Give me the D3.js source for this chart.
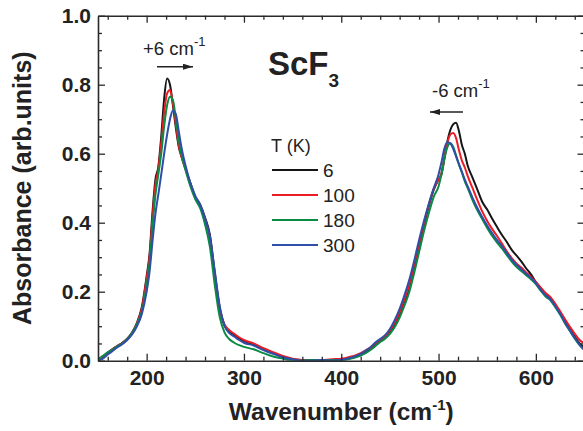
<!DOCTYPE html>
<html>
<head>
<meta charset="utf-8">
<script src="https://cdn.jsdelivr.net/npm/d3@7"></script>
<style>
  body { margin: 0; background: #fff; }
  svg { display: block; font-family: "Liberation Sans", Arial, sans-serif; }
</style>
</head>
<body>
<div id="chart"></div>
<script>
// wavenumber grid (cm-1)
const wavenumber = [
  150,155,160,165,170,175,180,185,190,195,200,
  203,206,209,212,215,218,221,224,227,230,233,236,
  240,245,250,255,260,265,270,275,280,285,290,295,300,
  310,320,330,340,350,360,370,380,390,400,
  405,410,415,420,425,430,435,440,445,450,455,460,465,470,475,480,485,490,495,500,
  503,506,509,512,515,518,521,524,527,530,
  535,540,545,550,555,560,565,570,575,580,585,590,595,600,605,610,615,620,625,630,635,640,645,650
];

// absorbance per temperature
const abs6 = [
  0.000,0.012,0.024,0.034,0.043,0.052,0.064,0.082,0.110,0.155,0.245,
  0.310,0.430,0.525,0.562,0.650,0.760,0.818,0.800,0.740,0.675,0.620,0.590,
  0.555,0.515,0.475,0.452,0.415,0.365,0.255,0.155,0.102,0.085,0.075,0.065,0.057,
  0.047,0.035,0.022,0.012,0.004,0.002,0.001,0.000,0.002,0.003,
  0.005,0.008,0.012,0.018,0.026,0.035,0.047,0.058,0.068,0.085,0.105,0.135,0.172,0.212,0.270,0.330,0.392,0.448,0.495,0.525,
  0.540,0.585,0.635,0.668,0.685,0.690,0.665,0.625,0.600,0.565,
  0.530,0.495,0.460,0.438,0.412,0.388,0.365,0.345,0.322,0.305,0.288,0.268,0.250,0.228,0.210,0.193,0.180,0.160,0.140,0.112,0.090,0.070,0.050,0.038
];
const abs100 = [
  0.000,0.011,0.022,0.033,0.042,0.051,0.062,0.080,0.108,0.150,0.238,
  0.300,0.415,0.510,0.555,0.630,0.720,0.775,0.785,0.745,0.685,0.625,0.590,
  0.555,0.512,0.472,0.448,0.410,0.355,0.245,0.150,0.105,0.088,0.078,0.068,0.060,
  0.050,0.036,0.025,0.014,0.006,0.002,0.000,0.001,0.004,0.006,
  0.008,0.012,0.016,0.022,0.030,0.038,0.050,0.060,0.070,0.088,0.110,0.140,0.178,0.220,0.278,0.338,0.398,0.452,0.498,0.525,
  0.545,0.590,0.630,0.655,0.660,0.645,0.610,0.580,0.560,0.535,
  0.500,0.465,0.432,0.405,0.382,0.362,0.340,0.318,0.298,0.282,0.270,0.256,0.243,0.228,0.212,0.196,0.184,0.165,0.143,0.120,0.098,0.078,0.060,0.050
];
const abs180 = [
  0.004,0.014,0.024,0.032,0.042,0.050,0.062,0.080,0.106,0.142,0.220,
  0.285,0.390,0.480,0.540,0.600,0.680,0.740,0.765,0.755,0.700,0.640,0.595,
  0.552,0.505,0.468,0.442,0.395,0.330,0.220,0.128,0.082,0.062,0.052,0.045,0.040,
  0.033,0.022,0.012,0.006,0.000,0.000,0.002,0.001,0.002,0.002,
  0.003,0.006,0.010,0.015,0.022,0.031,0.042,0.054,0.064,0.078,0.098,0.125,0.160,0.200,0.255,0.315,0.375,0.428,0.475,0.505,
  0.540,0.585,0.618,0.630,0.620,0.595,0.568,0.545,0.520,0.500,
  0.465,0.435,0.410,0.385,0.362,0.343,0.326,0.307,0.288,0.272,0.260,0.248,0.236,0.222,0.203,0.186,0.175,0.155,0.133,0.108,0.086,0.064,0.045,0.032
];
const abs300 = [
  0.000,0.006,0.018,0.028,0.039,0.048,0.060,0.076,0.100,0.135,0.200,
  0.258,0.345,0.425,0.482,0.540,0.600,0.655,0.700,0.725,0.715,0.665,0.615,
  0.565,0.515,0.478,0.452,0.412,0.360,0.260,0.160,0.102,0.080,0.070,0.060,0.052,
  0.044,0.031,0.020,0.010,0.004,0.000,0.000,0.002,0.000,0.003,
  0.005,0.009,0.014,0.020,0.029,0.039,0.053,0.063,0.074,0.092,0.118,0.150,0.190,0.235,0.290,0.350,0.405,0.455,0.500,0.540,
  0.575,0.615,0.633,0.630,0.615,0.592,0.570,0.548,0.525,0.505,
  0.472,0.442,0.416,0.392,0.370,0.350,0.333,0.313,0.294,0.278,0.265,0.252,0.240,0.225,0.205,0.190,0.178,0.158,0.136,0.110,0.088,0.066,0.046,0.030
];

const tempLabels = ["6", "100", "180", "300"];
const tempColors = ["#151515", "#ec1c24", "#0b8a44", "#2e4ea8"];
const xTicks = [200, 300, 400, 500, 600];
const yTicks = [0.0, 0.2, 0.4, 0.6, 0.8, 1.0];

const width = 583, height = 431;
const margin = { left: 98, right: -1.5, top: 15.7, bottom: 70.3 };

const svg = d3.select("#chart").append("svg")
  .attr("width", width)
  .attr("height", height);

const x = d3.scaleLinear().domain([150, 650]).range([margin.left, width - margin.right]);
const y = d3.scaleLinear().domain([0, 1.0]).range([height - margin.bottom, margin.top]);

const axisColor = "#2a2a2a";
const xMinor = d3.range(160, 650, 20).filter(d => d % 100 !== 0);
const yMinor = d3.range(0.05, 1.0, 0.05).filter(d => Math.abs(d * 5 - Math.round(d * 5)) > 1e-6);

function styleAxis(sel) {
  sel.selectAll("path").attr("stroke", axisColor).attr("stroke-width", 1.6);
  sel.selectAll("line").attr("stroke", axisColor).attr("stroke-width", 1.3);
}

// curves
svg.append("clipPath").attr("id", "plot-clip")
  .append("rect")
  .attr("x", margin.left).attr("y", margin.top)
  .attr("width", width - margin.right - margin.left)
  .attr("height", height - margin.bottom - margin.top);

const line = d3.line()
  .x(d => x(d[0]))
  .y(d => y(d[1]))
  .curve(d3.curveMonotoneX);

const allSeries = [abs6, abs100, abs180, abs300];
const curves = svg.append("g").attr("clip-path", "url(#plot-clip)");
allSeries.forEach((vals, i) => {
  curves.append("path")
    .datum(wavenumber.map((w, j) => [w, vals[j]]))
    .attr("fill", "none")
    .attr("stroke", tempColors[i])
    .attr("stroke-width", 2)
    .attr("d", line);
});

// axes: bottom, top, left, right
const gx = svg.append("g")
  .attr("transform", `translate(0,${y(0)})`)
  .call(d3.axisBottom(x).tickValues(xTicks).tickSize(-7).tickSizeOuter(0).tickPadding(9).tickFormat(d3.format("d")));
gx.append("g").call(d3.axisBottom(x).tickValues(xMinor).tickSize(-4).tickFormat(""))
  .select("path").remove();
styleAxis(gx);

const gxTop = svg.append("g")
  .attr("transform", `translate(0,${y(1)})`)
  .call(d3.axisTop(x).tickValues(xTicks).tickSize(-7).tickSizeOuter(0).tickFormat(""));
gxTop.append("g").call(d3.axisTop(x).tickValues(xMinor).tickSize(-4).tickFormat(""))
  .select("path").remove();
styleAxis(gxTop);

const gy = svg.append("g")
  .attr("transform", `translate(${x(150)},0)`)
  .call(d3.axisLeft(y).tickValues(yTicks).tickSize(-7).tickSizeOuter(0).tickPadding(7).tickFormat(d3.format(".1f")));
gy.append("g").call(d3.axisLeft(y).tickValues(yMinor).tickSize(-4).tickFormat(""))
  .select("path").remove();
styleAxis(gy);

const gyRight = svg.append("g")
  .attr("transform", `translate(${x(650)},0)`)
  .call(d3.axisRight(y).tickValues(yTicks).tickSize(-7).tickSizeOuter(0).tickFormat(""));
gyRight.append("g").call(d3.axisRight(y).tickValues(yMinor).tickSize(-4).tickFormat(""))
  .select("path").remove();
styleAxis(gyRight);

svg.selectAll(".tick text")
  .attr("fill", "#222")
  .attr("font-size", 21)
  .attr("font-weight", "bold")
  .attr("font-family", "Liberation Sans, Arial, sans-serif");

// axis titles
const xTitle = svg.append("text")
  .attr("x", (x(150) + x(650)) / 2)
  .attr("y", 420)
  .attr("text-anchor", "middle")
  .attr("font-size", 24.5)
  .attr("font-weight", "bold")
  .attr("fill", "#222");
xTitle.append("tspan").text("Wavenumber (cm");
xTitle.append("tspan").attr("dy", -10).attr("font-size", 15).text("-1");
xTitle.append("tspan").attr("dy", 10).text(")");

svg.append("text")
  .attr("transform", `translate(31,${(y(0) + y(1)) / 2}) rotate(-90)`)
  .attr("text-anchor", "middle")
  .attr("font-size", 25)
  .attr("font-weight", "bold")
  .attr("fill", "#222")
  .text("Absorbance (arb.units)");

// compound label
const title = svg.append("text")
  .attr("x", 268)
  .attr("y", 75)
  .attr("font-size", 33)
  .attr("font-weight", "bold")
  .attr("fill", "#222");
title.append("tspan").text("ScF");
title.append("tspan").attr("dy", 12).attr("font-size", 19).text("3");

// shift annotations
svg.append("defs").append("marker")
  .attr("id", "arrowhead")
  .attr("viewBox", "0 0 10 6")
  .attr("refX", 10).attr("refY", 3)
  .attr("markerWidth", 10).attr("markerHeight", 6)
  .attr("markerUnits", "userSpaceOnUse")
  .attr("orient", "auto")
  .append("path").attr("d", "M0,0L10,3L0,6Z").attr("fill", "#222");

function shiftLabel(tx, ty, label) {
  const t = svg.append("text")
    .attr("x", tx).attr("y", ty)
    .attr("font-size", 18.5)
    .attr("fill", "#222");
  t.append("tspan").text(label);
  t.append("tspan").attr("dy", -9).attr("font-size", 13).text("-1");
}
shiftLabel(143, 55, "+6 cm");
shiftLabel(432, 97, "-6 cm");

svg.append("line")
  .attr("x1", 157).attr("y1", 66.7).attr("x2", 193).attr("y2", 66.7)
  .attr("stroke", "#222").attr("stroke-width", 1.4)
  .attr("marker-end", "url(#arrowhead)");
svg.append("line")
  .attr("x1", 463).attr("y1", 112).attr("x2", 430).attr("y2", 112)
  .attr("stroke", "#222").attr("stroke-width", 1.4)
  .attr("marker-end", "url(#arrowhead)");

// legend
svg.append("text")
  .attr("x", 271).attr("y", 152)
  .attr("font-size", 18)
  .attr("fill", "#222")
  .text("T (K)");

const legend = svg.append("g");
tempLabels.forEach((lab, i) => {
  const ly = 170 + i * 25;
  legend.append("line")
    .attr("x1", 272).attr("x2", 318)
    .attr("y1", ly).attr("y2", ly)
    .attr("stroke", tempColors[i])
    .attr("stroke-width", 2.2);
  legend.append("text")
    .attr("x", 323).attr("y", ly + 7)
    .attr("font-size", 19)
    .attr("fill", "#222")
    .text(lab);
});
</script>
</body>
</html>
